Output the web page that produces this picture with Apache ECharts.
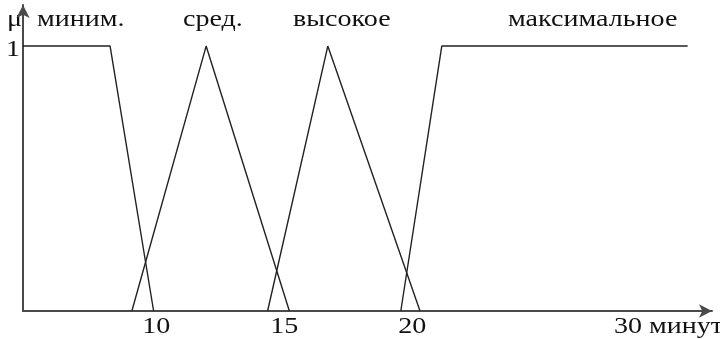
<!DOCTYPE html>
<html>
<head>
<meta charset="utf-8">
<script src="https://cdn.jsdelivr.net/npm/echarts@6/dist/echarts.min.js"></script>
<style>
  html, body { margin: 0; padding: 0; background: #fff; }
  #chart { width: 720px; height: 339px; }
</style>
</head>
<body>
<div id="chart"></div>
<script>
// значения функций принадлежности (минуты, μ)
const minimX = [4.8, 8.2, 9.9]
const minimY = [1, 1, 0]
const sredX = [9.05, 11.95, 15.2]
const sredY = [0, 1, 0]
const vysokX = [14.35, 16.7, 20.3]
const vysokY = [0, 1, 0]
const maxX = [19.55, 21.15, 30.75]
const maxY = [0, 1, 1]
const xTicks = [10, 15, 20, 30]
const xTickText = ['10', '15', '20', '30 минут']
const yTicks = [1]
const termNames = ['миним.', 'сред.', 'высокое', 'максимальное']

const font = '23px "Liberation Serif", "DejaVu Serif", serif'
const stretch = 1.22  // текст в оригинале растянут по горизонтали

function pairs(xs, ys) {
    return xs.map((x, i) => [x, ys[i]])
}

const series = [
    [minimX, minimY], [sredX, sredY], [vysokX, vysokY], [maxX, maxY]
].map((s, i) => ({
    name: termNames[i],
    type: 'line',
    data: pairs(s[0], s[1]),
    symbol: 'none',
    lineStyle: { color: '#222', width: 1.4 },
    animation: false
}))

const axisLine = {
    show: true,
    symbol: ['none', 'arrow'],
    symbolSize: [10, 13],
    lineStyle: { color: '#4a4a4a', width: 2 }
}

function txt(x, y, text, align) {
    return {
        type: 'text',
        x: x, y: y,
        scaleX: stretch,
        style: { text: text, font: font, fill: '#111', align: align || 'left', verticalAlign: 'top' }
    }
}

const chart = echarts.init(document.getElementById('chart'))
chart.setOption({
    animation: false,
    grid: { left: 23, right: 8, top: 5, bottom: 28 },
    xAxis: {
        type: 'value',
        min: 4.8,
        max: 31.7,
        splitLine: { show: false },
        axisTick: { show: false },
        axisLine: axisLine,
        axisLabel: { show: false }
    },
    yAxis: {
        type: 'value',
        min: 0,
        max: 1.155,
        splitLine: { show: false },
        axisTick: { show: false },
        axisLine: axisLine,
        axisLabel: { show: false }
    },
    series: series
})

// подписи осей и термов (растянутые, как в оригинале)
const labels = [
    txt(7, 8, 'μ'),
    txt(37, 8, termNames[0]),
    txt(183, 8, termNames[1]),
    txt(293, 8, termNames[2]),
    txt(508, 8, termNames[3])
]
xTicks.forEach((v, i) => {
    const p = chart.convertToPixel({ gridIndex: 0 }, [v, 0])
    labels.push(txt(p[0], p[1] + 4, xTickText[i], 'center'))
})
yTicks.forEach(v => {
    const p = chart.convertToPixel({ gridIndex: 0 }, [4.8, v])
    labels.push(txt(p[0] - 3, p[1] - 8, String(v), 'right'))
})
chart.setOption({ graphic: labels })
</script>
</body>
</html>
